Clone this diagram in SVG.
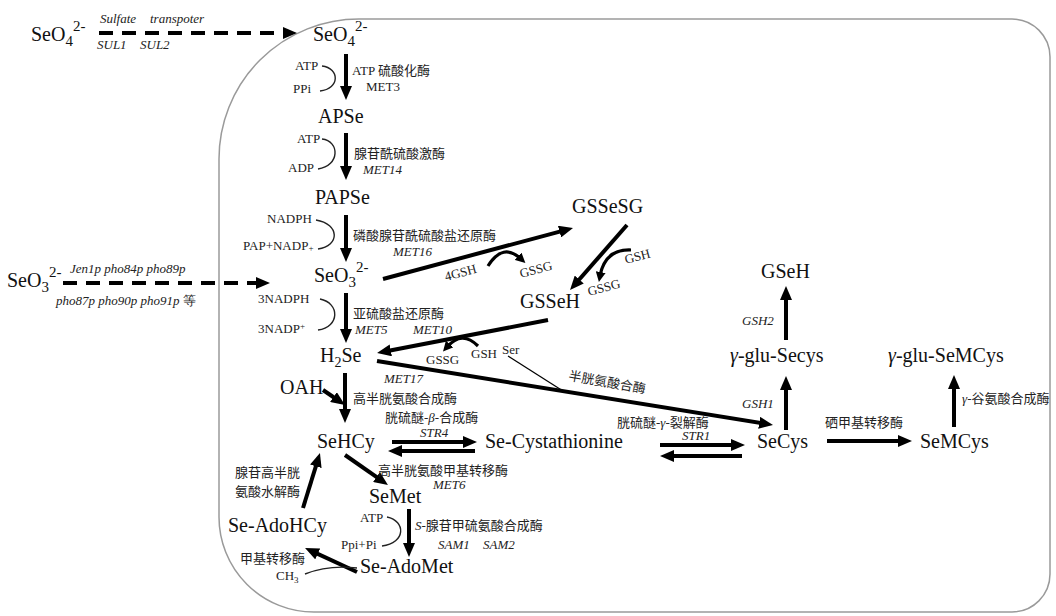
<svg xmlns="http://www.w3.org/2000/svg" width="1056" height="616" viewBox="0 0 1056 616">
<defs>
<style>
.n{font-family:"Liberation Serif","Noto Sans CJK SC",serif;font-size:20px;fill:#111}
.s{font-family:"Liberation Serif","Noto Sans CJK SC",serif;font-size:13px;fill:#222}
.l{font-family:"Liberation Serif","Noto Sans CJK SC",serif;font-size:13px;fill:#222}
.g{font-family:"Liberation Serif",serif;font-size:13px;font-style:italic;fill:#222}
.a{fill:none;stroke:#000;stroke-width:4;marker-end:url(#ah)}
.d{fill:none;stroke:#000;stroke-width:4;stroke-dasharray:14 9;marker-end:url(#ah)}
.cv{fill:none;stroke:#000;stroke-width:3.2;marker-end:url(#ahs)}
.br{fill:none;stroke:#222;stroke-width:1.4}
.box{fill:none;stroke:#9a9a9a;stroke-width:1.5}
</style>
<marker id="ah" viewBox="0 0 14 12" refX="6" refY="6" markerWidth="14" markerHeight="12" markerUnits="userSpaceOnUse" orient="auto"><path d="M0,0 L14,6 L0,12 z" fill="#000"/></marker>
<marker id="ahs" viewBox="0 0 10 10" refX="4" refY="5" markerWidth="10" markerHeight="10" markerUnits="userSpaceOnUse" orient="auto"><path d="M0,0 L10,5 L0,10 z" fill="#000"/></marker>
</defs>
<rect width="1056" height="616" fill="#fff"/>
<path class="box" d="M359,19 H1012 A38,38 0 0 1 1050,57 V574 A38,38 0 0 1 1012,612 H314 A95,95 0 0 1 219,517 V159 A140,140 0 0 1 359,19 Z"/>

<g id="connectors">
<path class="d" d="M99,33 H289"/>
<path class="d" d="M63,283 H262"/>
<path class="a" d="M346,54 V92"/>
<path class="a" d="M346,133 V172"/>
<path class="a" d="M346,215 V254"/>
<path class="a" d="M346,293 V335"/>
<path class="a" d="M345,373 V415"/>
<path class="a" d="M383,279 L565.3,230.1"/>
<path class="a" d="M627,225 L575.3,284"/>
<path class="a" d="M548,320 L384.9,351.5"/>
<path class="a" d="M377,361 L765.1,423.7"/>
<path d="M508,356 L563,391" stroke="#000" stroke-width="1.2" fill="none"/>
<path class="a" d="M323,390 L338.4,400.5"/>
<path class="a" d="M392,442 H469"/>
<path class="a" d="M475,451 H396"/>
<path class="a" d="M660,445 H737"/>
<path class="a" d="M742,456 H668"/>
<path class="a" d="M786,430 V384"/>
<path class="a" d="M786,340 V294"/>
<path class="a" d="M827,441 H904"/>
<path class="a" d="M954,427 V383"/>
<path class="a" d="M345,455 L381.4,480.4"/>
<path class="a" d="M409,509 V549"/>
<path class="a" d="M357,572 L312.3,551.4"/>
<path class="a" d="M303,508 L317.6,460.6"/>
<path class="cv" d="M488,266 Q503,242 521,259"/>
<path class="cv" d="M631,250 Q605,249 600,276"/>
<path class="cv" d="M478,346 Q462,330 447,347"/>
<path class="br" d="M322,66 C340,68 340,89 320,91"/>
<path class="br" d="M322,139 C340,141 340,166 318,169"/>
<path class="br" d="M316,220 C340,224 340,246 318,249"/>
<path class="br" d="M320,299 C340,303 340,327 318,330"/>
<path class="br" d="M387,517 C406,521 406,543 382,546"/>
<path class="br" d="M305,574 C320,568 340,566 357,568"/>
</g>

<g id="n-seo4-out"><text class="n" x="31" y="41" font-size="24">SeO<tspan font-size="15" dy="5">4</tspan><tspan font-size="15" dy="-15">2-</tspan></text>
<text class="g" x="100" y="23">Sulfate</text><text class="g" x="150" y="23">transpoter</text>
<text class="g" x="97" y="49">SUL1</text><text class="g" x="140" y="49">SUL2</text></g>
<g id="n-seo4"><text class="n" x="313" y="41" font-size="23">SeO<tspan font-size="15" dy="5">4</tspan><tspan font-size="15" dy="-15">2-</tspan></text></g>
<g id="r-met3"><text class="s" x="295" y="70">ATP</text><text class="s" x="293" y="93">PPi</text>
<text class="l" x="352" y="75">ATP 硫酸化酶</text><text class="l" x="366" y="91">MET3</text></g>
<g id="n-apse"><text class="n" x="318" y="123">APSe</text></g>
<g id="r-met14"><text class="s" x="297" y="143">ATP</text><text class="s" x="288" y="172">ADP</text>
<text class="l" x="354" y="158">腺苷酰硫酸激酶</text><text class="g" x="363" y="174">MET14</text></g>
<g id="n-papse"><text class="n" x="315" y="204">PAPSe</text></g>
<g id="r-met16"><text class="s" x="267" y="223">NADPH</text><text class="s" x="243" y="250">PAP+NADP<tspan font-size="9" dy="1">+</tspan></text>
<text class="l" x="353" y="240">磷酸腺苷酰硫酸盐还原酶</text><text class="g" x="393" y="256">MET16</text></g>
<g id="n-seo3-out"><text class="n" x="7" y="287" font-size="24">SeO<tspan font-size="15" dy="5">3</tspan><tspan font-size="15" dy="-15">2-</tspan></text>
<text class="g" x="70" y="273" font-size="12">Jen1p pho84p pho89p</text>
<text class="g" x="56" y="305" font-size="12">pho87p pho90p pho91p <tspan font-style="normal">等</tspan></text></g>
<g id="n-seo3"><text class="n" x="314" y="282" font-size="22">SeO<tspan font-size="15" dy="5">3</tspan><tspan font-size="15" dy="-15">2-</tspan></text></g>
<g id="r-met5"><text class="s" x="258" y="303">3NADPH</text><text class="s" x="258" y="333">3NADP<tspan font-size="9" dy="-4">+</tspan></text>
<text class="l" x="353" y="318">亚硫酸盐还原酶</text><text class="g" x="355" y="334">MET5</text><text class="g" x="413" y="334">MET10</text></g>
<g id="n-gssesg"><text class="n" x="572" y="213">GSSeSG</text></g>
<g id="r-gsh1"><text class="s" transform="rotate(-15 446 281)" x="446" y="281">4GSH</text>
<text class="s" transform="rotate(-15 521 278)" x="521" y="278">GSSG</text></g>
<g id="r-gsh2"><text class="s" transform="rotate(-15 626 264)" x="626" y="264">GSH</text>
<text class="s" transform="rotate(-15 589 296)" x="589" y="296">GSSG</text></g>
<g id="n-gsseh"><text class="n" x="520" y="308">GSSeH</text></g>
<g id="r-gsh3"><text class="s" x="426" y="364">GSSG</text><text class="s" x="471" y="358">GSH</text><text class="s" x="502" y="354">Ser</text></g>
<g id="n-h2se"><text class="n" x="320" y="362">H<tspan font-size="14" dy="5">2</tspan><tspan dy="-5">Se</tspan></text></g>
<g id="r-cys"><text class="l" transform="rotate(10 568 380)" x="568" y="380">半胱氨酸合酶</text></g>
<g id="n-oah"><text class="n" x="280" y="394">OAH</text></g>
<g id="r-met17"><text class="g" x="384" y="383">MET17</text><text class="l" x="353" y="403">高半胱氨酸合成酶</text>
<text class="l" x="385" y="422">胱硫醚-<tspan font-style="italic">β</tspan>-合成酶</text><text class="g" x="420" y="437">STR4</text></g>
<g id="n-sehcy"><text class="n" x="317" y="448">SeHCy</text></g>
<g id="n-secysta"><text class="n" x="485" y="448">Se-Cystathionine</text></g>
<g id="r-str1"><text class="l" x="617" y="427">胱硫醚-<tspan font-style="italic">γ</tspan>-裂解酶</text><text class="g" x="682" y="440">STR1</text></g>
<g id="n-secys"><text class="n" x="757" y="448">SeCys</text></g>
<g id="r-gshA"><text class="g" x="742" y="408">GSH1</text><text class="g" x="742" y="325">GSH2</text></g>
<g id="n-gglusecys"><text class="n" x="730" y="362"><tspan font-style="italic">γ</tspan>-glu-Secys</text></g>
<g id="n-gseh"><text class="n" x="761" y="278">GSeH</text></g>
<g id="r-semt"><text class="l" x="825" y="427">硒甲基转移酶</text></g>
<g id="n-semcys"><text class="n" x="920" y="448">SeMCys</text></g>
<g id="r-gglu"><text class="l" x="962" y="403" font-size="12"><tspan font-style="italic">γ</tspan>-谷氨酸合成酶</text></g>
<g id="n-gglusemcys"><text class="n" x="888" y="362"><tspan font-style="italic">γ</tspan>-glu-SeMCys</text></g>
<g id="r-met6"><text class="l" x="378" y="475">高半胱氨酸甲基转移酶</text><text class="g" x="433" y="489">MET6</text></g>
<g id="n-semet"><text class="n" x="369" y="503">SeMet</text></g>
<g id="r-sam"><text class="s" x="360" y="522">ATP</text><text class="s" x="341" y="549">Ppi+Pi</text>
<text class="l" x="415" y="530"><tspan font-style="italic">S</tspan>-腺苷甲硫氨酸合成酶</text><text class="g" x="438" y="549">SAM1</text><text class="g" x="483" y="549">SAM2</text></g>
<g id="n-seadomet"><text class="n" x="360" y="573">Se-AdoMet</text></g>
<g id="r-mt"><text class="l" x="240" y="563">甲基转移酶</text><text class="s" x="276" y="580">CH<tspan font-size="9" dy="3">3</tspan></text></g>
<g id="n-seadohcy"><text class="n" x="228" y="532">Se-AdoHCy</text></g>
<g id="r-hyd"><text class="l" x="235" y="477">腺苷高半胱</text><text class="l" x="235" y="496">氨酸水解酶</text></g>
</svg>
